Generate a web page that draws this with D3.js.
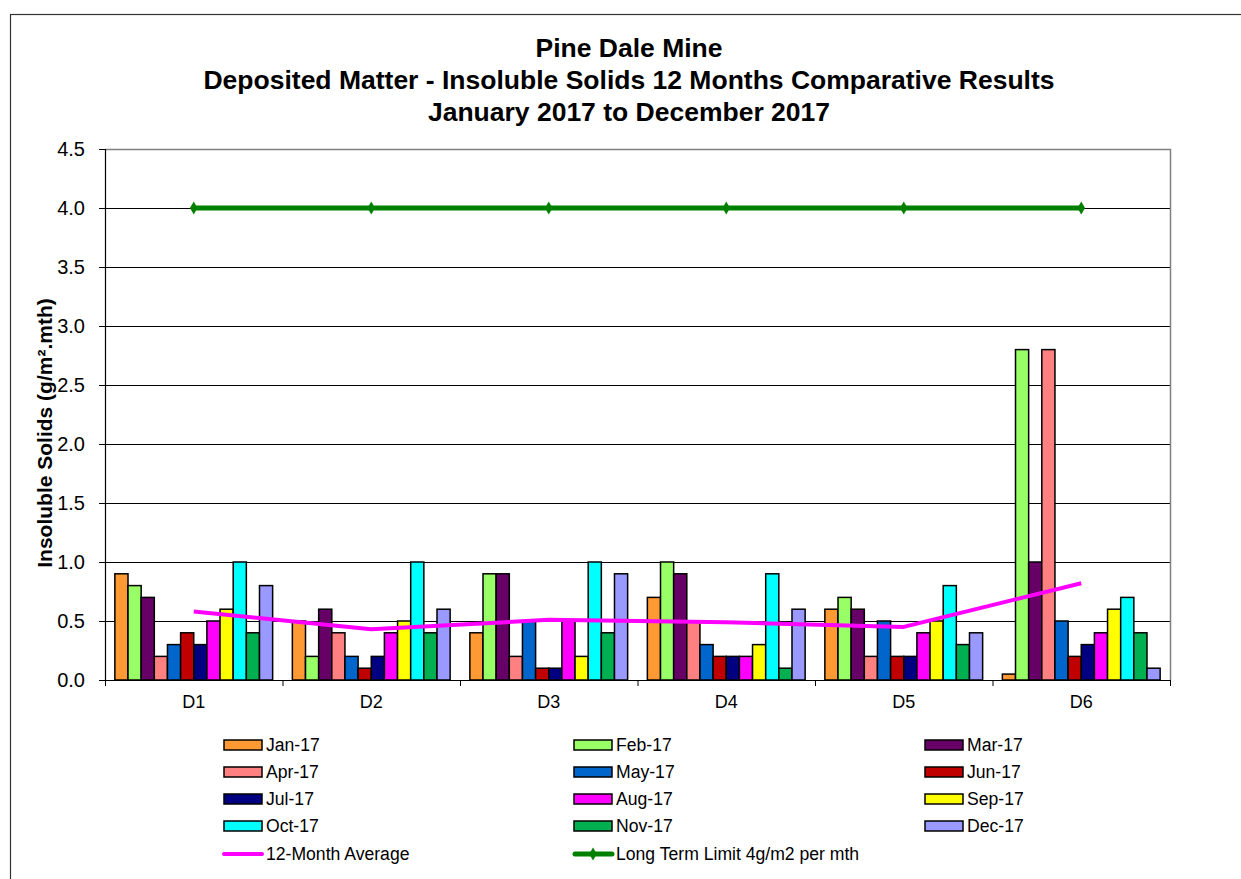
<!DOCTYPE html>
<html>
<head>
<meta charset="utf-8">
<script src="https://cdn.jsdelivr.net/npm/d3@7"></script>
<style>
  html, body { margin: 0; padding: 0; background: #fff; }
  svg { display: block; font-family: "Liberation Sans", Arial, sans-serif; }
</style>
</head>
<body>
<svg id="chart" width="1241" height="879"></svg>
<script>
const categories = ["D1", "D2", "D3", "D4", "D5", "D6"];
const months = ["Jan-17","Feb-17","Mar-17","Apr-17","May-17","Jun-17","Jul-17","Aug-17","Sep-17","Oct-17","Nov-17","Dec-17"];
const monthColors = ["#FF9933","#99FF66","#660066","#FF8080","#0066CC","#C00000","#000080","#FF00FF","#FFFF00","#00FFFF","#00B050","#9999FF"];

const jan17 = [0.9, 0.5, 0.4, 0.7, 0.6, 0.05];
const feb17 = [0.8, 0.2, 0.9, 1.0, 0.7, 2.8];
const mar17 = [0.7, 0.6, 0.9, 0.9, 0.6, 1.0];
const apr17 = [0.2, 0.4, 0.2, 0.5, 0.2, 2.8];
const may17 = [0.3, 0.2, 0.5, 0.3, 0.5, 0.5];
const jun17 = [0.4, 0.1, 0.1, 0.2, 0.2, 0.2];
const jul17 = [0.3, 0.2, 0.1, 0.2, 0.2, 0.3];
const aug17 = [0.5, 0.4, 0.5, 0.2, 0.4, 0.4];
const sep17 = [0.6, 0.5, 0.2, 0.3, 0.5, 0.6];
const oct17 = [1.0, 1.0, 1.0, 0.9, 0.8, 0.7];
const nov17 = [0.4, 0.4, 0.4, 0.1, 0.3, 0.4];
const dec17 = [0.8, 0.6, 0.9, 0.6, 0.4, 0.1];

const avg12 = [0.58, 0.43, 0.51, 0.49, 0.45, 0.82];
const limit = [4.0, 4.0, 4.0, 4.0, 4.0, 4.0];

const yTicks = [0.0, 0.5, 1.0, 1.5, 2.0, 2.5, 3.0, 3.5, 4.0, 4.5];

const titleLines = ["Pine Dale Mine", "Deposited Matter - Insoluble Solids 12 Months Comparative Results", "January 2017 to December 2017"];
const avgLabel = "12-Month Average";
const limitLabel = "Long Term Limit 4g/m2 per mth";

const monthSeries = [jan17, feb17, mar17, apr17, may17, jun17, jul17, aug17, sep17, oct17, nov17, dec17];

const svg = d3.select("#chart");
const plot = { left: 105, right: 1170, top: 149, bottom: 680 };

// outer chart frame
svg.append("rect").attr("x", 10.5).attr("y", 14.5).attr("width", 1260).attr("height", 900)
  .attr("fill", "#fff").attr("stroke", "#333").attr("stroke-width", 1.2);

// title
const title = svg.append("text").attr("text-anchor", "middle").attr("font-weight", "bold")
  .attr("font-size", 26.5).attr("fill", "#000");
titleLines.forEach((t, i) => {
  title.append("tspan").attr("x", 629).attr("y", 57 + i * 32).text(t);
});

const x = d3.scaleBand().domain(categories).range([plot.left, plot.right]).paddingInner(0).paddingOuter(0);
const x1 = d3.scaleBand().domain(months).range([0, x.bandwidth()]).paddingInner(0).paddingOuter(0.75);
const y = d3.scaleLinear().domain([0, 4.5]).range([plot.bottom, plot.top]);

// gridlines
svg.append("g").selectAll("line").data(yTicks.filter(v => v > 0 && v < 4.5)).join("line")
  .attr("x1", plot.left).attr("x2", plot.right)
  .attr("y1", d => Math.round(y(d)) + 0.5).attr("y2", d => Math.round(y(d)) + 0.5)
  .attr("stroke", "#000").attr("stroke-width", 1);

// plot border top and right (gray)
svg.append("path")
  .attr("d", `M${plot.left},${plot.top + 0.5}H${plot.right + 0.5}V${plot.bottom}`)
  .attr("fill", "none").attr("stroke", "#808080").attr("stroke-width", 1.5);

// bars
const groups = svg.append("g").selectAll("g").data(months).join("g")
  .attr("fill", (d, i) => monthColors[i]);
groups.each(function(m, mi) {
  d3.select(this).selectAll("rect").data(monthSeries[mi]).join("rect")
    .attr("x", (v, ci) => x(categories[ci]) + x1(m))
    .attr("width", x1.bandwidth())
    .attr("y", v => y(v))
    .attr("height", v => y(0) - y(v))
    .attr("stroke", "#000").attr("stroke-width", 1.5);
});

// y axis
const yAxis = d3.axisLeft(y).tickValues(yTicks).tickFormat(d3.format(".1f")).tickSize(6).tickPadding(14);
const gy = svg.append("g").attr("transform", `translate(${plot.left},0)`).call(yAxis);
gy.select(".domain").attr("stroke", "#000").attr("stroke-width", 1.2);
gy.selectAll(".tick line").attr("stroke", "#000");
gy.selectAll(".tick text").attr("font-size", 20).attr("font-family", "Liberation Sans, Arial, sans-serif").attr("fill", "#000");

// x axis with ticks at category boundaries
const xAxisG = svg.append("g").attr("transform", `translate(0,${plot.bottom})`);
xAxisG.append("line").attr("x1", plot.left).attr("x2", plot.right).attr("y1", 0.5).attr("y2", 0.5)
  .attr("stroke", "#000").attr("stroke-width", 1.2);
const bounds = categories.map(c => x(c)).concat([plot.right]);
xAxisG.selectAll("line.tk").data(bounds).join("line").attr("class", "tk")
  .attr("x1", d => d + 0.5).attr("x2", d => d + 0.5).attr("y1", 0).attr("y2", 6)
  .attr("stroke", "#000");
xAxisG.selectAll("text").data(categories).join("text")
  .attr("x", d => x(d) + x.bandwidth() / 2).attr("y", 28)
  .attr("text-anchor", "middle").attr("font-size", 18).attr("fill", "#000").text(d => d);

// y axis title
svg.append("text")
  .attr("transform", `translate(52,${433}) rotate(-90)`)
  .attr("text-anchor", "middle").attr("font-weight", "bold").attr("font-size", 21)
  .text("Insoluble Solids (g/m².mth)");

// lines
const lineGen = d3.line().x((v, i) => x(categories[i]) + x.bandwidth() / 2).y(v => y(v));
svg.append("path").datum(avg12).attr("d", lineGen).attr("fill", "none")
  .attr("stroke", "#FF00FF").attr("stroke-width", 4).attr("stroke-linejoin", "round");
svg.append("path").datum(limit).attr("d", lineGen).attr("fill", "none")
  .attr("stroke", "#008000").attr("stroke-width", 5);
const diamond = d3.symbol().type(d3.symbolDiamond).size(50);
svg.append("g").selectAll("path").data(limit).join("path")
  .attr("transform", (v, i) => `translate(${x(categories[i]) + x.bandwidth() / 2},${y(v)})`)
  .attr("d", diamond).attr("fill", "#008000");

// legend
const legCols = [224, 574, 925];
const legRows = [745, 772, 799, 826, 854];
const legend = svg.append("g").attr("font-size", 17.6);
months.forEach((m, i) => {
  const cx = legCols[i % 3], cy = legRows[Math.floor(i / 3)];
  legend.append("rect").attr("x", cx).attr("y", cy - 5).attr("width", 38).attr("height", 10)
    .attr("fill", monthColors[i]).attr("stroke", "#000").attr("stroke-width", 1.5);
  legend.append("text").attr("x", cx + 42).attr("y", cy + 6).text(m);
});
{
  const cy = legRows[4];
  legend.append("line").attr("x1", legCols[0]).attr("x2", legCols[0] + 38).attr("y1", cy).attr("y2", cy)
    .attr("stroke", "#FF00FF").attr("stroke-width", 4).attr("stroke-linecap", "round");
  legend.append("text").attr("x", legCols[0] + 42).attr("y", cy + 6).text(avgLabel);
  legend.append("line").attr("x1", legCols[1] + 1).attr("x2", legCols[1] + 38).attr("y1", cy).attr("y2", cy)
    .attr("stroke", "#008000").attr("stroke-width", 5).attr("stroke-linecap", "round");
  legend.append("path").attr("transform", `translate(${legCols[1] + 19},${cy})`).attr("d", diamond).attr("fill", "#008000");
  legend.append("text").attr("x", legCols[1] + 42).attr("y", cy + 6).text(limitLabel);
}
</script>
</body>
</html>
